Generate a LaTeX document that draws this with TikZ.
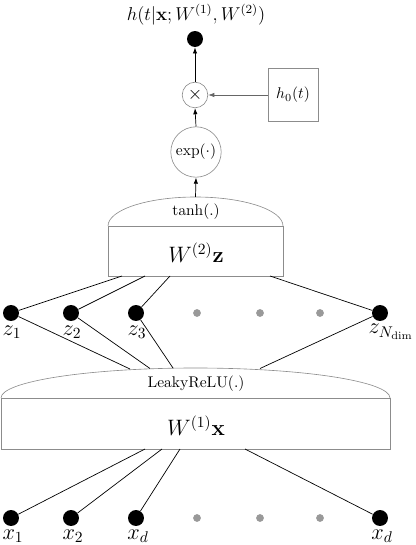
\documentclass[tikz,border=0pt]{standalone}
\usetikzlibrary{arrows.meta}
\begin{document}
\begin{tikzpicture}[x=0.645pt,y=-0.645pt,
  bdot/.style={circle,fill=black,inner sep=0pt,minimum size=10.3pt},
  gdot/.style={circle,fill=black!40,inner sep=0pt,minimum size=5pt},
  ring/.style={circle,draw=black!45,inner sep=0pt},
  gbox/.style={draw=black!45},
  conn/.style={black,line width=0.45pt},
  arr/.style={-{Latex[length=4pt,width=2.8pt]},line width=0.45pt},
  lab/.style={font=\Large,inner sep=0pt}]
\useasboundingbox (0,0) rectangle (415,545);
% output
\node[font=\large,inner sep=0pt] (hl) at (196,15) {$h(t|\mathbf{x};W^{(1)},W^{(2)})$};
\node[bdot] (out) at (195,39) {};
\node[ring,minimum size=16.5pt,font=\large] (mul) at (195,95) {$\times$};
\node[gbox,minimum width=32pt,minimum height=34pt,inner sep=0pt] (h0) at (293,95) {$h_0(t)$};
\node[ring,minimum size=32.5pt] (exp) at (196,152) {$\exp(\cdot)$};
% top layer
\draw[gbox] (108,226) rectangle (283,276);
\draw[gbox] (108,226) arc[start angle=180,end angle=360,x radius=87.5,y radius=29];
\coordinate (tdome) at (195.5,197);
\node[inner sep=0pt] (tanh) at (196,212) {$\tanh(.)$};
\node[font=\Large,inner sep=0pt] (w2) at (196,253) {$W^{(2)}\mathbf{z}$};
% lower layer
\draw[gbox] (1,398) rectangle (390,449);
\draw[gbox] (1,398) arc[start angle=180,end angle=360,x radius=194.5,y radius=30];
\node[inner sep=0pt] (leaky) at (196,384) {LeakyReLU(.)};
\node[font=\Large,inner sep=0pt] (w1) at (196,426) {$W^{(1)}\mathbf{x}$};
% arrows
\draw[arr] (tdome) -- (exp.south);
\draw[arr] (exp.north) -- (mul.south);
\draw[arr] (mul.north) -- (out.south);
\draw[arr,draw=black!60] (h0.west) -- (mul.east);
% z row
\node[bdot] (z1) at (11,313) {};
\node[bdot] (z2) at (71,313) {};
\node[bdot] (z3) at (136,313) {};
\node[gdot] (zg1) at (197,313) {};
\node[gdot] (zg2) at (260,313) {};
\node[gdot] (zg3) at (320,313) {};
\node[bdot] (zn) at (380,313) {};
\node[lab] at (12,332) {$z_1$};
\node[lab] at (72,332) {$z_2$};
\node[lab] at (137,332) {$z_3$};
\node[lab] at (391,332) {$z_{N_{\mathrm{dim}}}$};
% x row
\node[bdot] (x1) at (11,518) {};
\node[bdot] (x2) at (71,518) {};
\node[bdot] (x3) at (136,518) {};
\node[gdot] (xg1) at (197,518) {};
\node[gdot] (xg2) at (260,518) {};
\node[gdot] (xg3) at (320,518) {};
\node[bdot] (xn) at (380,518) {};
\node[lab] at (13,536) {$x_1$};
\node[lab] at (73,536) {$x_2$};
\node[lab] at (138,536) {$x_d$};
\node[lab] at (382,536) {$x_d$};
% attachment points
\coordinate (ta) at (122,276);
\coordinate (tb) at (145,276);
\coordinate (tc) at (170,276);
\coordinate (td) at (270,276);
\coordinate (la) at (130,369);
\coordinate (lb) at (150,368.5);
\coordinate (lc) at (173,368);
\coordinate (ld) at (260,368.5);
\coordinate (ba) at (145,449);
\coordinate (bb) at (162,449);
\coordinate (bc) at (180,449);
\coordinate (bd) at (245,449);
\draw[conn] (z1) -- (ta); \draw[conn] (z2) -- (tb); \draw[conn] (z3) -- (tc); \draw[conn] (zn) -- (td);
\draw[conn] (z1) -- (la); \draw[conn] (z2) -- (lb); \draw[conn] (z3) -- (lc); \draw[conn] (zn) -- (ld);
\draw[conn] (x1) -- (ba); \draw[conn] (x2) -- (bb); \draw[conn] (x3) -- (bc); \draw[conn] (xn) -- (bd);
\end{tikzpicture}
\end{document}
